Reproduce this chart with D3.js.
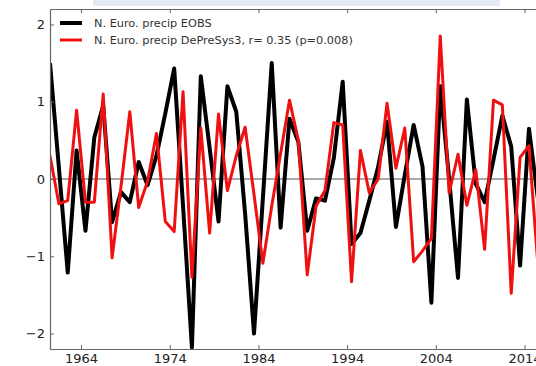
<!DOCTYPE html>
<html>
<head>
<meta charset="utf-8">
<script src="https://cdn.jsdelivr.net/npm/d3@7"></script>
<style>
  html, body { margin: 0; padding: 0; background: #fff; }
  svg { display: block; font-family: "DejaVu Sans", sans-serif; }
</style>
</head>
<body>
<svg id="chart" width="536" height="366"></svg>
<script>
// Winter precipitation anomalies over northern Europe, one value per year
const years = d3.range(1960, 2016);

const eobs = [
  1.50, 0.15, -1.21, 0.37, -0.67, 0.54, 0.95, -0.56, -0.17, -0.30,
  0.22, -0.08, 0.30, 0.85, 1.43, -0.35, -2.18, 1.33, 0.40, -0.55,
  1.20, 0.87, -0.45, -2.00, -0.25, 1.50, -0.63, 0.78, 0.48, -0.67,
  -0.25, -0.28, 0.27, 1.26, -0.84, -0.70, -0.28, 0.16, 0.74, -0.62,
  0.05, 0.70, 0.16, -1.60, 1.20, 0.00, -1.28, 1.03, -0.06, -0.30,
  0.25, 0.82, 0.42, -1.12, 0.65, -0.25
];

const depresys = [
  0.30, -0.32, -0.28, 0.89, -0.30, -0.30, 1.10, -1.02, -0.10, 0.87,
  -0.37, -0.03, 0.59, -0.55, -0.68, 1.13, -1.27, 0.66, -0.70, 0.84,
  -0.15, 0.30, 0.67, -0.20, -1.09, -0.35, 0.33, 1.02, 0.50, -1.24,
  -0.35, -0.15, 0.73, 0.70, -1.33, 0.37, -0.18, 0.00, 0.98, 0.14,
  0.66, -1.07, -0.93, -0.77, 1.85, -0.18, 0.32, -0.34, 0.12, -0.91,
  1.02, 0.96, -1.48, 0.28, 0.43, -1.10
];

const xTicks = [1964, 1974, 1984, 1994, 2004, 2014];
const yTicks = [-2, -1, 0, 1, 2];

const seriesNames = [
  "N. Euro. precip EOBS",
  "N. Euro. precip DePreSys3, r= 0.35 (p=0.008)"
];
const seriesColors = ["#000000", "#f01010"];
const seriesWidths = [4, 3];

const svg = d3.select("#chart");

// plot frame
const plotLeft = 50, plotTop = 9, plotBottom = 349, plotRight = 546.7;

// each annual value sits at the middle of its year
const x = d3.scaleLinear().domain([1960.5, 2016.5]).range([plotLeft, plotRight]);
const y = d3.scaleLinear().domain([-2.2, 2.2]).range([plotBottom, plotTop]);

// light header strip above the axes
svg.append("rect")
  .attr("x", 93).attr("y", 0).attr("width", 407).attr("height", 6)
  .attr("fill", "#e3eaf4");

svg.append("defs").append("clipPath").attr("id", "plotclip")
  .append("rect")
  .attr("x", plotLeft).attr("y", plotTop)
  .attr("width", plotRight - plotLeft).attr("height", plotBottom - plotTop);

// zero reference line
svg.append("line")
  .attr("x1", plotLeft).attr("x2", plotRight)
  .attr("y1", y(0)).attr("y2", y(0))
  .attr("stroke", "#555").attr("stroke-width", 1.2);

const line = d3.line()
  .x((d, i) => x(years[i] + 0.5))
  .y(d => y(d));

const plot = svg.append("g").attr("clip-path", "url(#plotclip)");
[eobs, depresys].forEach((vals, s) => {
  plot.append("path")
    .datum(vals)
    .attr("d", line)
    .attr("fill", "none")
    .attr("stroke", seriesColors[s])
    .attr("stroke-width", seriesWidths[s])
    .attr("stroke-linejoin", "round");
});

// axes with inward ticks
const axisColor = "#666";
const bottomAxis = svg.append("g")
  .attr("transform", `translate(0,${plotBottom})`)
  .call(d3.axisBottom(x).tickValues(xTicks).tickFormat(d3.format("d"))
    .tickSizeInner(-4).tickSizeOuter(0).tickPadding(5));
const topAxis = svg.append("g")
  .attr("transform", `translate(0,${plotTop})`)
  .call(d3.axisTop(x).tickValues(xTicks).tickFormat("")
    .tickSizeInner(-4).tickSizeOuter(0));
const leftAxis = svg.append("g")
  .attr("transform", `translate(${plotLeft},0)`)
  .call(d3.axisLeft(y).tickValues(yTicks).tickFormat(d3.format("d"))
    .tickSizeInner(-4).tickSizeOuter(0).tickPadding(5));

[bottomAxis, topAxis, leftAxis].forEach(g => {
  g.select(".domain").attr("stroke", axisColor).attr("stroke-width", 1.2);
  g.selectAll(".tick line").attr("stroke", axisColor);
  g.selectAll(".tick text")
    .attr("fill", "#222")
    .style("font-family", "DejaVu Sans")
    .style("font-size", "13px");
});

// legend
const legend = svg.append("g").attr("transform", "translate(60,23)");
seriesNames.forEach((name, i) => {
  const row = legend.append("g").attr("transform", `translate(0,${i * 17})`);
  row.append("line")
    .attr("x1", 0).attr("x2", 22).attr("y1", 0).attr("y2", 0)
    .attr("stroke", seriesColors[i]).attr("stroke-width", seriesWidths[i]);
  row.append("text")
    .attr("x", 34).attr("y", 0).attr("dy", "0.35em")
    .attr("fill", "#333")
    .style("font-size", "11.3px")
    .text(name);
});
</script>
</body>
</html>
